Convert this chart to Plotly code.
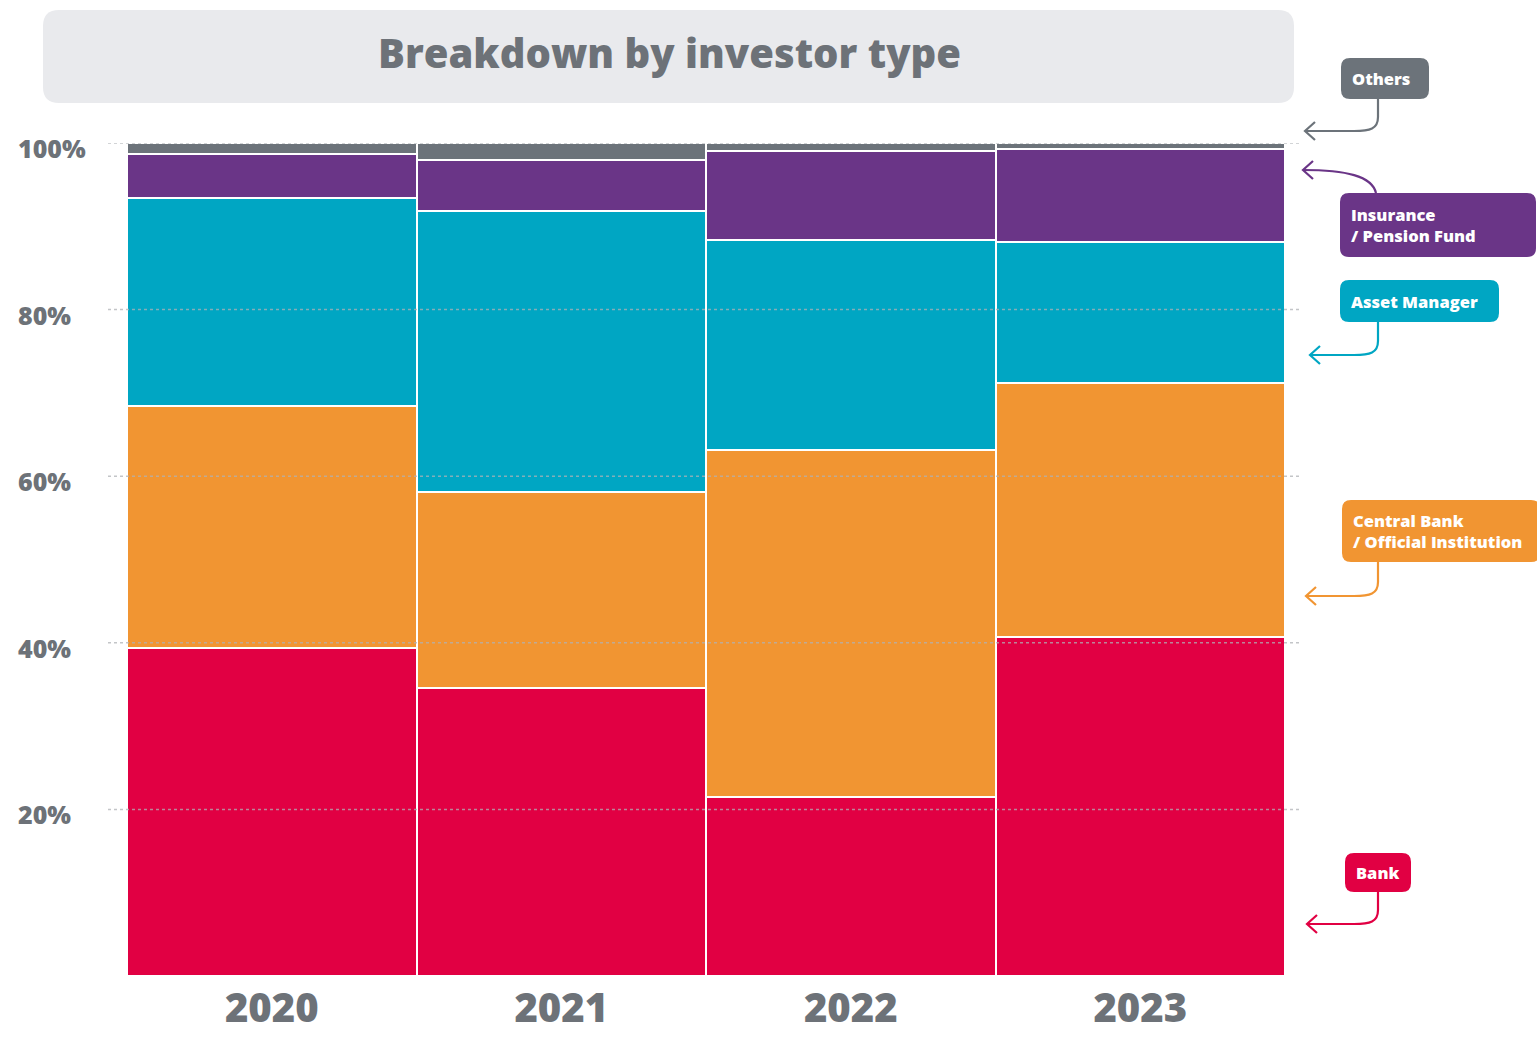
import plotly.graph_objects as go

# Share of issuance by investor type (%), stacked bottom to top
years = ["2020", "2021", "2022", "2023"]
bank = [39.4, 34.6, 21.5, 40.7]
central_bank = [29.0, 23.5, 41.6, 30.5]
asset_manager = [25.0, 33.7, 25.3, 16.9]
insurance_pension = [5.3, 6.2, 10.6, 11.2]
others = [1.3, 2.0, 1.0, 0.7]

y_ticks = [20, 40, 60, 80, 100]
y_tick_labels = ["20%", "40%", "60%", "80%", "100%"]

W, H = 1537, 1038
L, R, T, B = 127, 252, 143, 62
PW, PH = W - L - R, H - T - B

GREY = "#6d7278"
FONT = "Open Sans"

series = [
    ("Bank", bank, "#e10043"),
    ("Central Bank / Official Institution", central_bank, "#f19532"),
    ("Asset Manager", asset_manager, "#00a6c3"),
    ("Insurance / Pension Fund", insurance_pension, "#6a3587"),
    ("Others", others, "#6c737a"),
]

fig = go.Figure()
for name, vals, col in series:
    fig.add_trace(go.Bar(
        x=years, y=vals, name=name,
        marker=dict(color=col, line=dict(color="white", width=2.5)),
        hovertemplate="%{x}: %{y:.1f}%<extra>" + name + "</extra>",
    ))


def px_x(px):
    return (px - L) / PW


def px_y(py):
    return (H - B - py) / PH


shapes = []
annotations = []

# dotted gridlines drawn across the bars and a little past the plot edges
for v in y_ticks:
    shapes.append(dict(
        type="line", xref="paper", yref="y",
        x0=px_x(108), x1=px_x(1302), y0=v, y1=v,
        line=dict(color="rgba(175,178,182,0.75)", width=1.5, dash="dot"),
        layer="above",
    ))

# y tick labels, left aligned
for v, lab in zip(y_ticks, y_tick_labels):
    annotations.append(dict(
        text=lab, xref="paper", yref="y", x=px_x(16), y=v,
        xanchor="left", yanchor="middle", yshift=-5, showarrow=False,
        font=dict(family=FONT, size=25, color=GREY, weight=800),
    ))


def rounded_rect(x0, y0, x1, y1, r, fill):
    """Rounded rectangle given in pixel coordinates, placed in paper space."""
    X = px_x
    Y = px_y
    path = (
        f"M {X(x0 + r)},{Y(y0)} L {X(x1 - r)},{Y(y0)} "
        f"Q {X(x1)},{Y(y0)} {X(x1)},{Y(y0 + r)} "
        f"L {X(x1)},{Y(y1 - r)} Q {X(x1)},{Y(y1)} {X(x1 - r)},{Y(y1)} "
        f"L {X(x0 + r)},{Y(y1)} Q {X(x0)},{Y(y1)} {X(x0)},{Y(y1 - r)} "
        f"L {X(x0)},{Y(y0 + r)} Q {X(x0)},{Y(y0)} {X(x0 + r)},{Y(y0)} Z"
    )
    return dict(type="path", xref="paper", yref="paper", path=path,
                fillcolor=fill, line=dict(width=0), layer="above")


def curved_arrow(sx, sy, ex, ey, col, up=False):
    """Curved connector from a label box to the bar edge, ending in an open arrowhead."""
    X = px_x
    Y = px_y
    if up:
        # leaves the top of the box and sweeps up-left
        path = (
            f"M {X(sx)},{Y(sy)} C {X(sx - 4)},{Y(ey + 6)} {X(sx - 30)},{Y(ey)} "
            f"{X(ex)},{Y(ey)}"
        )
    else:
        # leaves the bottom of the box and hooks left
        path = (
            f"M {X(sx)},{Y(sy)} L {X(sx)},{Y(ey - 14)} "
            f"C {X(sx)},{Y(ey - 2)} {X(sx - 8)},{Y(ey)} {X(sx - 24)},{Y(ey)} "
            f"L {X(ex)},{Y(ey)}"
        )
    head = (
        f"M {X(ex + 10)},{Y(ey - 9)} L {X(ex)},{Y(ey)} L {X(ex + 10)},{Y(ey + 9)}"
    )
    return [dict(type="path", xref="paper", yref="paper", path=p,
                 line=dict(color=col, width=2.2), layer="above")
            for p in (path, head)]


# title banner
shapes.append(rounded_rect(43, 10, 1294, 103, 16, "#e9eaed"))
annotations.append(dict(
    text="Breakdown by investor type", xref="paper", yref="paper",
    x=px_x(669), y=px_y(53), xanchor="center", yanchor="middle",
    showarrow=False, font=dict(family=FONT, size=40, color=GREY, weight=800),
))

# callout labels on the right
callouts = [
    # text, box (x0, y0, x1, y1), colour, arrow start, arrow end, arrow leaves top?
    ("Others", (1341, 58, 1429, 99), "#6c737a", (1378, 99), (1305, 131), False),
    ("Insurance<br>/ Pension Fund", (1340, 193, 1536, 257), "#6a3587", (1376, 193), (1303, 170), True),
    ("Asset Manager", (1340, 280, 1499, 322), "#00a6c3", (1378, 322), (1310, 355), False),
    ("Central Bank<br>/ Official Institution", (1342, 500, 1540, 562), "#f19532", (1378, 562), (1306, 596), False),
    ("Bank", (1345, 853, 1411, 892), "#e10043", (1378, 892), (1307, 924), False),
]
for text, (x0, y0, x1, y1), col, (sx, sy), (ex, ey), up in callouts:
    shapes.append(rounded_rect(x0, y0, x1, y1, 9, col))
    shapes.extend(curved_arrow(sx, sy, ex, ey, col, up))
    annotations.append(dict(
        text=text, xref="paper", yref="paper",
        x=px_x(x0 + 9), y=px_y((y0 + y1) / 2), xanchor="left", yanchor="middle",
        align="left", showarrow=False,
        font=dict(family=FONT, size=16.5, color="white", weight=800),
    ))

fig.update_layout(
    width=W, height=H, autosize=False,
    margin=dict(l=L, r=R, t=T, b=B),
    paper_bgcolor="white", plot_bgcolor="white",
    barmode="stack", bargap=0,
    showlegend=False,
    shapes=shapes, annotations=annotations,
    xaxis=dict(
        type="category", range=[-0.5, 3.5], showgrid=False, zeroline=False,
        showline=False, ticks="", automargin=False, ticklabelstandoff=5,
        tickfont=dict(family=FONT, size=40, color=GREY, weight=800),
    ),
    yaxis=dict(
        range=[0, 100], showgrid=False, zeroline=False, showline=False,
        showticklabels=False, fixedrange=True, automargin=False,
    ),
)

fig.write_html("out.html")
